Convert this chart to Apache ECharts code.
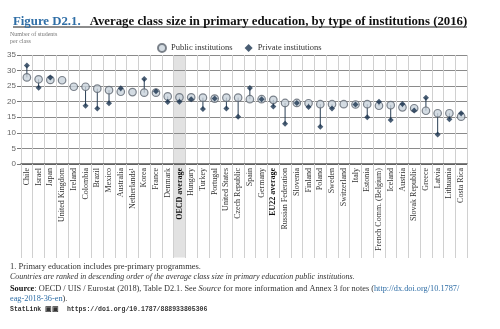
<!DOCTYPE html>
<html><head><meta charset="utf-8">
<script src="https://cdn.jsdelivr.net/npm/echarts@6/dist/echarts.min.js"></script>
<style>html,body{margin:0;padding:0;background:#fff}#c{width:500px;height:329px}</style>
</head><body><div id="c"></div>
<script>
var categories = ['Chile','Israel','Japan','United Kingdom','Ireland','Colombia','Brazil','Mexico','Australia','Netherlands\u00b9','Korea','France','Denmark','OECD average','Hungary','Turkey','Portugal','United States','Czech Republic','Spain','Germany','EU22 average','Russian Federation','Slovenia','Finland','Poland','Sweden','Switzerland','Italy','Estonia','French Comm. (Belgium)','Iceland','Austria','Slovak Republic','Greece','Latvia','Lithuania','Costa Rica'];
var publicVals = [27.8,27.2,27.0,26.9,24.8,24.8,24.2,23.7,23.2,23.1,22.9,22.9,21.7,21.4,21.4,21.3,21.0,21.3,21.3,20.8,20.8,20.6,19.6,19.6,19.5,19.2,19.2,19.2,19.1,19.2,18.7,18.9,18.2,17.9,17.1,16.3,16.3,15.2];
var privateVals = [31.6,24.5,27.8,null,null,18.7,17.8,19.5,24.3,null,27.3,23.4,19.9,20.0,20.8,17.7,21.0,17.8,15.2,24.4,20.8,18.5,12.9,19.6,18.3,12.0,17.8,null,19.1,15.0,20.0,14.1,19.3,17.2,21.3,9.5,14.4,16.3];
var highlightCats = ['OECD average'];
var boldCats = ['OECD average','EU22 average'];
var yTicks = [0,5,10,15,20,25,30,35];

var serif = 'Liberation Serif';
var chart = echarts.init(document.getElementById('c'));
var hiTop = categories.map(function(c){return highlightCats.indexOf(c)>=0?35:null;});
var hiBottom = categories.map(function(c){return highlightCats.indexOf(c)>=0?-30:null;});
var linkData = categories.map(function(c,i){return [i, publicVals[i], privateVals[i]];});

chart.setOption({
  animation:false,
  textStyle:{fontFamily:serif},
  title:{
    left:8, top:8,
    text:'{a|Figure D2.1.}  {b|Average class size in primary education, by type of institutions (2016)}',
    textStyle:{rich:{
      a:{fontFamily:serif,fontSize:12.8,color:'#2f6ea6',fontWeight:'bold'},
      b:{fontFamily:serif,fontSize:12.8,color:'#111',fontWeight:'bold'}
    }}
  },
  legend:{
    top:38, left:152, itemGap:12, itemWidth:8, itemHeight:8,
    textStyle:{fontFamily:serif,fontSize:8.5,color:'#333'},
    data:[{name:'Public institutions',icon:'circle'},{name:'Private institutions',icon:'diamond'}]
  },
  grid:{left:21,right:33,top:55,bottom:165},
  xAxis:{
    type:'category', data:categories,
    axisLine:{lineStyle:{color:'#555',width:1.5}},
    axisTick:{show:true,length:94,lineStyle:{color:'#d0d0d0'}},
    splitLine:{show:true,lineStyle:{color:'#d0d0d0'}},
    axisLabel:{rotate:90,interval:0,fontSize:8,color:'#333',fontFamily:serif,margin:4,
      formatter:function(v){return boldCats.indexOf(v)>=0?'{b|'+v+'}':v;},
      rich:{b:{fontWeight:'bold',fontSize:8,color:'#111',fontFamily:serif}}}
  },
  yAxis:{
    type:'value', min:0, max:35, interval:5,
    axisLine:{show:false},
    axisTick:{show:true,length:4,lineStyle:{color:'#777'}},
    axisLabel:{fontSize:8,color:'#666',margin:5,fontFamily:'Liberation Sans'},
    splitLine:{lineStyle:{color:'#8a8a8a',width:1}}
  },
  series:[
    {type:'bar',data:hiTop,stack:'hi',barWidth:'100%',silent:true,z:-1,clip:false,
     itemStyle:{color:'#e2e2e2'},legendHoverLink:false},
    {type:'bar',data:hiBottom,stack:'hi',barWidth:'100%',silent:true,z:-1,clip:false,
     itemStyle:{color:'#e2e2e2'}},
    {type:'custom',data:linkData,z:3,
     renderItem:function(params,api){
       var p=api.value(1),q=api.value(2);
       if(q==null||isNaN(q)) return;
       var a=api.coord([api.value(0),p]), b=api.coord([api.value(0),q]);
       return {type:'line',shape:{x1:a[0],y1:a[1],x2:b[0],y2:b[1]},style:{stroke:'#2a3f55',lineWidth:1}};
     }},
    {name:'Public institutions',type:'scatter',data:publicVals,symbol:'circle',symbolSize:7.5,z:4,
     itemStyle:{color:'#c9d3dc',borderColor:'#5f6770',borderWidth:1.2}},
    {name:'Private institutions',type:'scatter',data:privateVals,symbol:'diamond',symbolSize:6,z:5,
     itemStyle:{color:'#1c3550'}}
  ],
  graphic:[
    {type:'line',shape:{x1:13,y1:27,x2:467,y2:27},style:{stroke:'#666',lineWidth:1.5}},
    {type:'text',left:10,top:31,style:{text:'Number of students\nper class',font:'6px "Liberation Serif"',fill:'#777',lineHeight:7}},
    {type:'text',left:10,top:262,style:{text:'1. Primary education includes pre-primary programmes.',font:'8.5px "Liberation Serif"',fill:'#333'}},
    {type:'text',left:10,top:273,style:{text:'Countries are ranked in descending order of the average class size in primary education public institutions.',font:'italic 8px "Liberation Serif"',fill:'#333'}},
    {type:'text',left:10,top:285,style:{
      text:'{s|Source}: OECD / UIS / Eurostat (2018), Table D2.1. See {i|Source} for more information and Annex 3 for notes ({l|http://dx.doi.org/10.1787/}',
      font:'8.3px "Liberation Serif"',fill:'#333',
      rich:{s:{fontWeight:'bold',fontSize:8.3,fontFamily:serif,fill:'#111'},i:{fontStyle:'italic',fontSize:8.3,fontFamily:serif},l:{fontSize:8.3,fontFamily:serif,fill:'#2f6ea6',textDecoration:'underline'}}}},
    {type:'text',left:10,top:295,style:{text:'{l|eag-2018-36-en}).',font:'8.3px "Liberation Serif"',fill:'#333',
      rich:{l:{fontSize:8.3,fontFamily:serif,fill:'#2f6ea6'}}}},
    {type:'text',left:10,top:306,style:{text:'StatLink \u25A3\u25A3  https://doi.org/10.1787/888933805306',font:'bold 6.5px "Liberation Mono"',fill:'#333'}}
  ]
});
</script></body></html>
